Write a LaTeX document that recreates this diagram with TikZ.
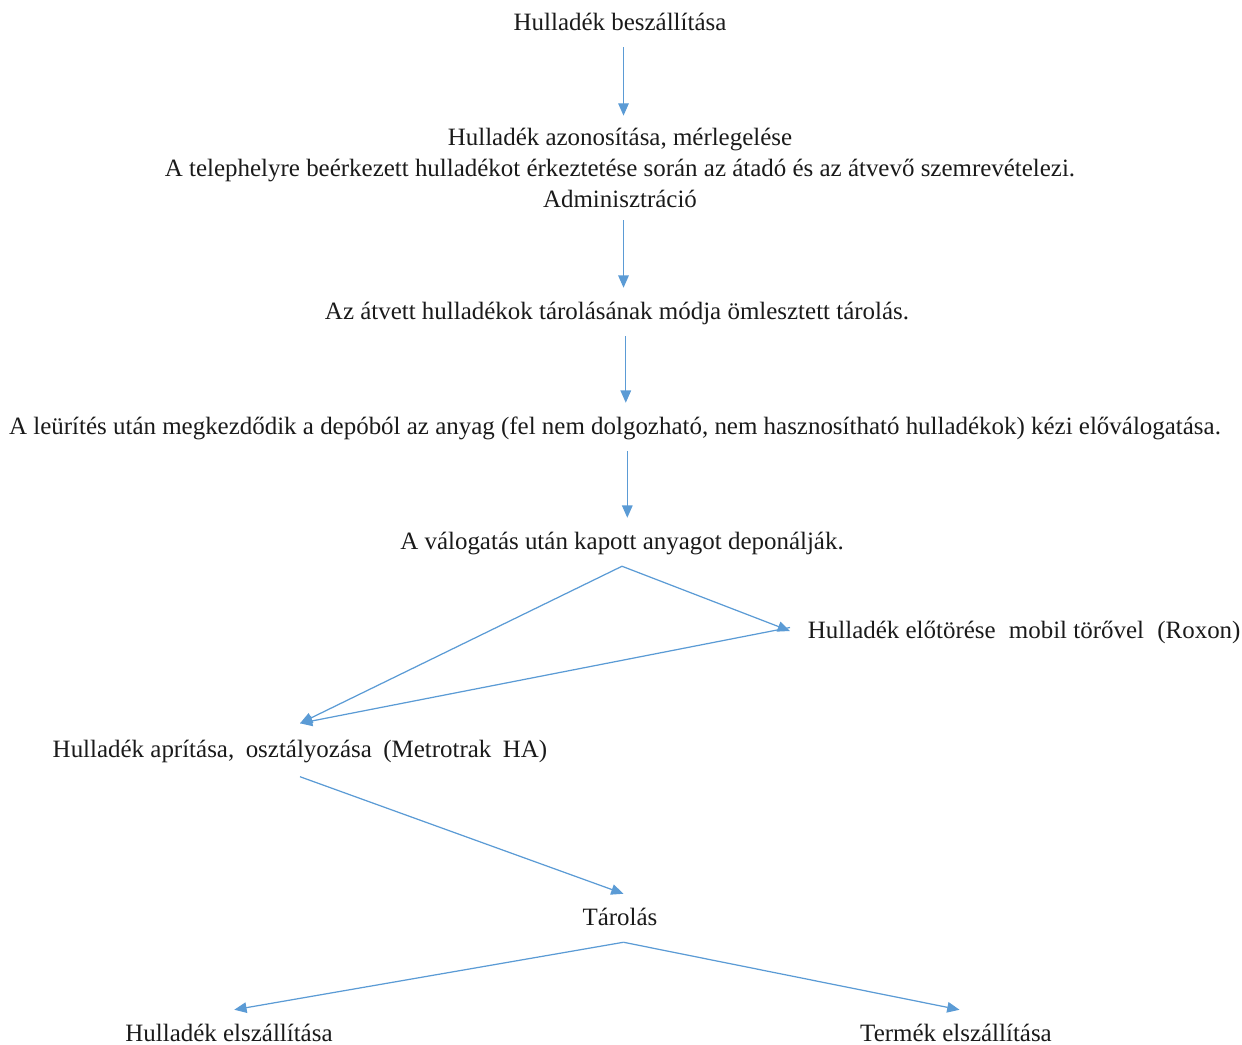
\documentclass[tikz,border=0pt]{standalone}
\usepackage{fontspec}
\setmainfont{Liberation Serif}
\usetikzlibrary{arrows.meta}
\definecolor{arrowblue}{HTML}{5B9BD5}
\definecolor{txt}{HTML}{1A1A1A}
\tikzset{
  lbl/.style={font=\fontsize{14.2}{17.6}\selectfont, text=txt, text height=10.5pt, text depth=1.5pt, inner xsep=0pt, inner ysep=7.6pt},
  multilbl/.style={font=\fontsize{14.2}{17.6}\selectfont, text=txt, align=center, inner xsep=0pt, inner ysep=7pt},
  arr/.style={draw=arrowblue, line width=0.7pt, -{Triangle[length=7pt,width=6pt]}},
}
\begin{document}
\begin{tikzpicture}[x=0.02cm,y=-0.02cm]
\useasboundingbox (0,0) rectangle (1242,1045);
\node[lbl] (n1) at (620,23) {Hulladék beszállítása};
\node[multilbl] (n2) at (620,168) {Hulladék azonosítása, mérlegelése\\A telephelyre beérkezett hulladékot érkeztetése során az átadó és az átvevő szemrevételezi.\\Adminisztráció};
\node[lbl] (n3) at (617,312) {Az átvett hulladékok tárolásának módja ömlesztett tárolás.};
\node[lbl] (n4) at (615,427) {A leürítés után megkezdődik a depóból az anyag (fel nem dolgozható, nem hasznosítható hulladékok) kézi előválogatása.};
\node[lbl] (n5) at (622,542) {A válogatás után kapott anyagot deponálják.};
\node[lbl, anchor=west, inner xsep=10pt] (n6) at (790,631) {Hulladék előtörése\hspace{4pt} mobil törővel\hspace{4pt} (Roxon)};
\node[lbl, inner ysep=9pt] (n7) at (300,750) {Hulladék aprítása,\hspace{3pt} osztályozása\hspace{3pt} (Metrotrak\hspace{3pt} HA)};
\node[lbl] (n8) at (620,918) {Tárolás};
\node[lbl] (n9) at (229,1034) {Hulladék elszállítása};
\node[lbl] (n10) at (956,1034) {Termék elszállítása};
\draw[arr] ([xshift=2]n1.south) -- ([xshift=2]n1.south |- n2.north);
\draw[arr] ([xshift=2]n2.south) -- ([xshift=2]n2.south |- n3.north);
\draw[arr] ([xshift=5]n3.south) -- ([xshift=5]n3.south |- n4.north);
\draw[arr] ([xshift=7]n4.south) -- ([xshift=7]n4.south |- n5.north);
\draw[arr] (n5.south) -- (n6.west);
\draw[arr] (n5.south) -- (n7.north);
\draw[arr] ([yshift=2]n6.west) -- (n7.north);
\draw[arr] (n7.south) -- ([xshift=2]n8.north);
\draw[arr] ([xshift=2]n8.south) -- ([xshift=3]n9.north);
\draw[arr] ([xshift=2]n8.south) -- ([xshift=2]n10.north);
\end{tikzpicture}
\end{document}
